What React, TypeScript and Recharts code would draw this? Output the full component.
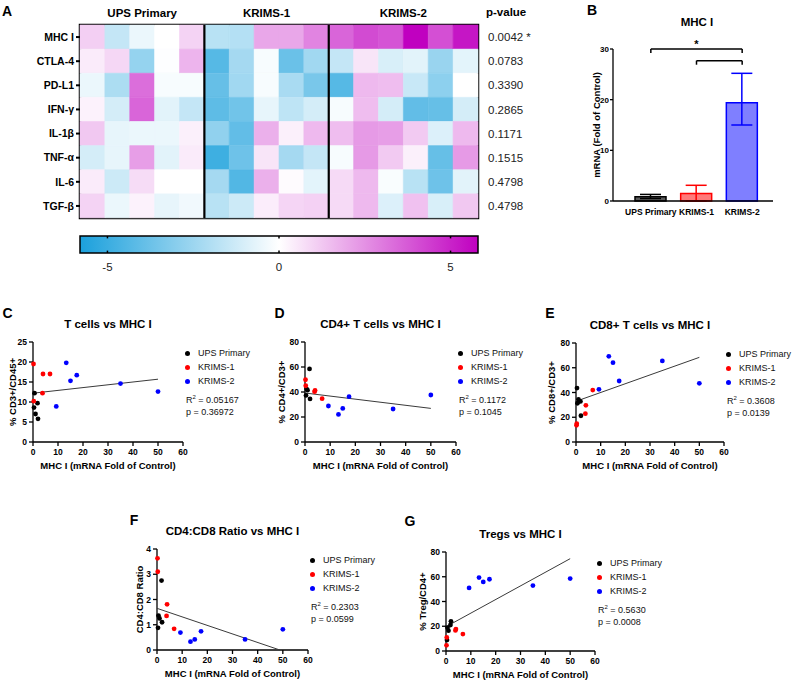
import React from 'react'
import {
  BarChart, Bar, Cell, XAxis, YAxis, ReferenceLine, ReferenceArea, ReferenceDot,
  ErrorBar, ScatterChart, Scatter,
} from 'recharts'

const FONT = '"Liberation Sans", Arial, Helvetica, sans-serif'

// ---------- A: heatmap ----------
const GENES = ['MHC I', 'CTLA-4', 'PD-L1', 'IFN-γ', 'IL-1β', 'TNF-α', 'IL-6', 'TGF-β']
const P_VALUES = ['0.0042 *', '0.0783', '0.3390', '0.2865', '0.1171', '0.1515', '0.4798', '0.4798']
const GROUPS = ['UPS Primary', 'KRIMS-1', 'KRIMS-2']
const GROUP_COLORS = ['#000000', '#ff0000', '#0000ff']

const UPS_HEAT = [
  [1.1, -1.5, -0.5, 0, 1.0],
  [0.45, 0.9, -2.7, -0.05, 1.7],
  [-0.5, -2.1, 3.3, -0.2, -0.2],
  [0.3, -1.1, 3.5, -0.75, -1.5],
  [1.25, -0.6, -0.5, -0.5, 0.35],
  [-1.1, -0.6, 2.2, -0.75, 0.45],
  [0.45, -1.3, 0.8, 0, 0],
  [1.0, -0.5, 0.3, -0.6, -0.35],
]
const KRIMS1_HEAT = [
  [-1.8, -1.9, 2.0, 2.0, 2.8],
  [-4.3, -2.3, -0.2, -3.8, -2.4],
  [-3.9, -2.4, -0.2, -2.2, -3.4],
  [-4.1, -3.6, -0.6, -1.65, -1.1],
  [-2.8, -4.0, 1.8, 0.35, 1.6],
  [-4.9, -3.7, 0.6, -2.3, -1.5],
  [-2.3, -4.4, 1.8, 0.1, -0.7],
  [-1.8, -1.3, 0.4, 0.95, 1.05],
]
const KRIMS2_HEAT = [
  [3.5, 4.1, 3.9, 5.8, 4.0, 5.3],
  [-1.5, 0.6, -1.0, -0.75, -2.6, -0.7],
  [-4.3, 1.6, 1.5, -1.4, -2.9, 0],
  [-0.2, 1.5, -1.1, -4.0, -3.9, -1.1],
  [1.5, 2.3, 2.2, 1.2, -0.9, 1.6],
  [-0.2, 2.3, 1.2, 0.35, -3.9, 2.3],
  [0.85, 1.6, -0.15, -1.8, -3.7, -0.75],
  [0.85, 1.6, -0.9, 1.4, -1.0, 1.25],
]
const COLOR_LIMIT = 5.8
const COLORBAR_TICKS = [-5, 0, 5]
const LOW_RGB = [27, 160, 220]
const HIGH_RGB = [192, 0, 192]

// ---------- B: MHC I bars ----------
const MHC_GROUPS = ['UPS Primary', 'KRIMS-1', 'KRIMS-2']
const MHC_MEAN = [0.85, 1.5, 19.4]
const MHC_ERR_LOW = [0.35, 1.5, 4.4]
const MHC_ERR_HIGH = [0.45, 1.6, 5.8]
const MHC_FILL_OPACITY = [0.64, 0.52, 0.5]
const MHC_TICKS = [0, 10, 20, 30]
const MHC_BRACKETS: [string, string, number][] = [
  ['UPS Primary', 'KRIMS-2', 30],
  ['KRIMS-1', 'KRIMS-2', 27.7],
]

// ---------- C-G: scatter vs MHC I ----------
const MHC_X_TICKS = [0, 10, 20, 30, 40, 50, 60]
const UPS_MHC = [0.4, 0.6, 1.0, 1.8, 2.0]
const KRIMS1_MHC = [0.2, 0.3, 3.8, 4.0, 6.8]
const KRIMS2_MHC = [9.3, 13.3, 15.0, 17.5, 35.0, 50.0]

const TCELL_UPS = [8.6, 12.2, 7.0, 9.7, 5.8]
const TCELL_K1 = [19.5, 10.2, 12.2, 17.0, 17.0]
const TCELL_K2 = [8.9, 19.8, 15.3, 16.7, 14.6, 12.6]
const TCELL_FIT = [12.2, 0.07]

const CD4_UPS = [37.3, 42.5, 41.5, 58.5, 34.5]
const CD4_K1 = [49.8, 45.0, 40.3, 41.3, 34.7]
const CD4_K2 = [28.8, 22.1, 26.9, 36.3, 26.4, 37.6]
const CD4_FIT = [39.2, -0.246]

const CD8_UPS = [43.6, 31.3, 34.5, 32.8, 21.2]
const CD8_K1 = [13.5, 14.8, 22.9, 29.6, 42.0]
const CD8_K2 = [42.6, 69.2, 64.1, 49.3, 65.5, 47.4]
const CD8_FIT = [32.9, 0.71]

const RATIO_UPS = [0.88, 1.36, 1.25, 2.75, 1.1]
const RATIO_K1 = [3.63, 3.1, 1.35, 1.81, 0.84]
const RATIO_K2 = [0.69, 0.33, 0.42, 0.74, 0.42, 0.82]
const RATIO_FIT = [1.65, -0.0338]

const TREG_UPS = [8.9, 18.8, 16.4, 21.0, 24.0]
const TREG_K1 = [4.6, 11.0, 16.6, 17.7, 13.7]
const TREG_K2 = [51.0, 59.3, 55.8, 58.0, 52.9, 58.5]
const TREG_FIT = [19.6, 1.1]

function heatColor(v: number) {
  const t = Math.min(Math.abs(v) / COLOR_LIMIT, 1)
  const end = v < 0 ? LOW_RGB : HIGH_RGB
  const c = end.map((e) => Math.round(255 + (e - 255) * t))
  return `rgb(${c[0]},${c[1]},${c[2]})`
}

const HEAT = GENES.map((_, i) => [...UPS_HEAT[i], ...KRIMS1_HEAT[i], ...KRIMS2_HEAT[i]])
const N_COLS = HEAT[0].length
const GROUP_SIZES = [UPS_HEAT[0].length, KRIMS1_HEAT[0].length, KRIMS2_HEAT[0].length]
const GROUP_EDGES = GROUP_SIZES.reduce((acc, n) => [...acc, acc[acc.length - 1] + n], [0])
const GROUP_CENTERS = GROUP_SIZES.map((n, i) => GROUP_EDGES[i] + n / 2)

const heatRows = GENES.map((gene, i) => {
  const row: Record<string, any> = { gene, p: P_VALUES[i] }
  HEAT[i].forEach((_, j) => { row[`c${j}`] = 1 })
  return row
})

const mhcRows = MHC_GROUPS.map((group, i) => {
  const row: Record<string, any> = { group }
  MHC_GROUPS.forEach((_, k) => {
    row[`v${k}`] = k === i ? MHC_MEAN[i] : null
    row[`e${k}`] = k === i ? [MHC_ERR_LOW[i], MHC_ERR_HIGH[i]] : null
  })
  return row
})

const AXIS = { stroke: '#000', strokeWidth: 1.3 }
const TICK = { fontSize: 8.5, fontWeight: 700, fill: '#000' }

function Txt({ x, y, size, bold, anchor = 'start', color = '#000', children }: any) {
  const tx = anchor === 'middle' ? '-50%' : anchor === 'end' ? '-100%' : '0'
  return (
    <div
      style={{
        position: 'absolute', left: x, top: y - size / 2, fontSize: size, lineHeight: `${size}px`,
        fontWeight: bold ? 700 : 400, whiteSpace: 'nowrap', transform: `translateX(${tx})`, color,
      }}
    >
      {children}
    </div>
  )
}

function Heatmap() {
  return (
    <>
      <div style={{ position: 'absolute', left: 0, top: 0 }}>
        <BarChart layout="vertical" width={558} height={221} data={heatRows}
          margin={{ top: 0, right: 2, left: 0, bottom: 3 }} barCategoryGap={0} barGap={0}>
          <XAxis type="number" orientation="top" domain={[0, N_COLS]} ticks={GROUP_CENTERS}
            tickFormatter={(v) => GROUPS[GROUP_CENTERS.indexOf(v)]} axisLine={false} tickLine={false}
            tickSize={0} tickMargin={7.6} height={25} interval={0}
            tick={{ fontSize: 11.5, fontWeight: 700, fill: '#000' }} />
          <YAxis type="category" dataKey="gene" width={80} tickSize={4} tickMargin={2} axisLine={false}
            tickLine={{ stroke: '#000', strokeWidth: 2 }} interval={0}
            tick={{ fontSize: 10.5, fontWeight: 700, fill: '#000' }} />
          <YAxis yAxisId="p" orientation="right" type="category" dataKey="p" width={78} tickSize={0}
            tickMargin={10} axisLine={false} tickLine={false} interval={0}
            tick={{ fontSize: 11.5, fill: '#222' }} />
          {HEAT[0].map((_, j) => (
            <Bar key={j} dataKey={`c${j}`} stackId="h" isAnimationActive={false}>
              {HEAT.map((row, i) => (
                <Cell key={i} fill={heatColor(row[j])} stroke={heatColor(row[j])} strokeWidth={0.6} />
              ))}
            </Bar>
          ))}
          {GROUP_EDGES.slice(1, -1).map((e) => (
            <ReferenceLine key={e} x={e} stroke="#000" strokeWidth={2.2} ifOverflow="visible" />
          ))}
          <ReferenceArea x1={0} x2={N_COLS} fill="none" stroke="#000" strokeWidth={2.5} ifOverflow="visible" />
        </BarChart>
      </div>
      <Txt x={486} y={13} size={11.5} bold>p-value</Txt>
      <div style={{ position: 'absolute', left: 0, top: 228 }}>
        <ScatterChart width={490} height={53} margin={{ top: 8, right: 12, left: 80, bottom: 0 }}>
          <defs>
            <linearGradient id="heatScale" x1="0" y1="0" x2="1" y2="0">
              <stop offset="0%" stopColor={heatColor(-COLOR_LIMIT)} />
              <stop offset="50%" stopColor="#ffffff" />
              <stop offset="100%" stopColor={heatColor(COLOR_LIMIT)} />
            </linearGradient>
          </defs>
          <XAxis type="number" dataKey="x" domain={[-COLOR_LIMIT, COLOR_LIMIT]} ticks={COLORBAR_TICKS}
            height={28} axisLine={false} tickLine={false} tickSize={0} tickMargin={10} interval={0}
            tick={{ fontSize: 11.5, fill: '#222' }} />
          <YAxis type="number" dataKey="y" domain={[0, 1]} hide />
          <Scatter data={COLORBAR_TICKS.map((x) => ({ x, y: 0.5 }))} shape={() => <g />}
            legendType="none" isAnimationActive={false} />
          <ReferenceArea x1={-COLOR_LIMIT} x2={COLOR_LIMIT} y1={0} y2={1} fill="url(#heatScale)" fillOpacity={1}
            stroke="#000" strokeWidth={1.5} ifOverflow="visible" />
          {COLORBAR_TICKS.map((t) => (
            <ReferenceLine key={`b${t}`} segment={[{ x: t, y: 0 }, { x: t, y: 0.14 }]} stroke="#000" strokeWidth={1.5} />
          ))}
          {COLORBAR_TICKS.map((t) => (
            <ReferenceLine key={`t${t}`} segment={[{ x: t, y: 0.86 }, { x: t, y: 1 }]} stroke="#000" strokeWidth={1.5} />
          ))}
        </ScatterChart>
      </div>
    </>
  )
}

function MhcBars() {
  const pad = { left: 15, right: 8 }
  return (
    <>
      <Txt x={697} y={22.7} size={11.5} bold anchor="middle">MHC I</Txt>
      <div style={{ position: 'absolute', left: 575, top: 31 }}>
        <BarChart width={204} height={192} data={mhcRows} margin={{ top: 18, right: 6, left: 0, bottom: 0 }}>
          <XAxis dataKey="group" type="category" padding={pad} height={22} tickLine={false} tickSize={6}
            tickMargin={2} axisLine={AXIS} tick={TICK} interval={0} />
          <XAxis xAxisId={1} dataKey="group" type="category" padding={pad} hide />
          <XAxis xAxisId={2} dataKey="group" type="category" padding={pad} hide />
          <YAxis type="number" domain={[0, 30]} ticks={MHC_TICKS} width={38} tickSize={3} tickMargin={1}
            axisLine={AXIS} tickLine={AXIS} tick={{ ...TICK, fontSize: 8 }} interval={0}
            label={{
              value: 'mRNA (Fold of Control)', angle: -90, position: 'insideLeft', offset: 21.5,
              style: { textAnchor: 'middle' }, fontSize: 9.5, fontWeight: 700, fill: '#000',
            }} />
          {MHC_GROUPS.map((_, k) => (
            <Bar key={k} xAxisId={k} dataKey={`v${k}`} barSize={31} fill={GROUP_COLORS[k]}
              fillOpacity={MHC_FILL_OPACITY[k]} stroke={GROUP_COLORS[k]} strokeWidth={1.5} isAnimationActive={false}>
              <ErrorBar dataKey={`e${k}`} direction="y" width={10.5} stroke={GROUP_COLORS[k]} strokeWidth={1.5} />
            </Bar>
          ))}
          {MHC_BRACKETS.map(([a, b, y]) => (
            <ReferenceLine key={`h${a}`} segment={[{ x: a, y }, { x: b, y }]} stroke="#000" strokeWidth={1.5} ifOverflow="visible" />
          ))}
          {MHC_BRACKETS.flatMap(([a, b, y]) => [a, b].map((g) => (
            <ReferenceLine key={`v${a}${g}`} segment={[{ x: g, y }, { x: g, y: y - 0.8 }]} stroke="#000"
              strokeWidth={1.5} ifOverflow="visible" />
          )))}
          <ReferenceDot x="KRIMS-1" y={30} r={0} ifOverflow="visible"
            label={{ value: '*', position: 'top', offset: 1.3, fontSize: 11, fontWeight: 700, fill: '#000' }} />
        </BarChart>
      </div>
    </>
  )
}

type PanelProps = {
  letter: string
  letterAt: [number, number]
  title: string
  yLabel: string
  labelGap: number
  plot: { x: number; y: number; w: number; h: number }
  yMax: number
  yTicks: number[]
  ups: number[]
  krims1: number[]
  krims2: number[]
  fit: number[]
  fitTo: number
  r2: string
  p: string
}

function ScatterPanel(props: PanelProps) {
  const { letter, letterAt, title, yLabel, labelGap, plot, yMax, yTicks, ups, krims1, krims2, fit, fitTo, r2, p } = props
  const YW = 36, MT = 10, MR = 8, XH = 34
  const pts = (xs: number[], ys: number[]) => xs.map((x, i) => ({ x, y: ys[i] }))
  const fitPts = [0, fitTo].map((x) => ({ x, y: fit[0] + fit[1] * x }))
  const series = [pts(UPS_MHC, ups), pts(KRIMS1_MHC, krims1), pts(KRIMS2_MHC, krims2)]
  const lx = plot.x + plot.w
  return (
    <>
      <Txt x={letterAt[0]} y={letterAt[1]} size={14} bold anchor="middle">{letter}</Txt>
      <Txt x={plot.x + plot.w / 2} y={plot.y - 17.5} size={11.5} bold anchor="middle">{title}</Txt>
      <div style={{ position: 'absolute', left: plot.x - YW, top: plot.y - MT }}>
        <ScatterChart width={YW + plot.w + MR} height={MT + plot.h + XH} margin={{ top: MT, right: MR, left: 0, bottom: 0 }}>
          <XAxis type="number" dataKey="x" domain={[0, 60]} ticks={MHC_X_TICKS} height={XH} tickSize={4}
            tickMargin={3} axisLine={AXIS} tickLine={AXIS} tick={TICK} interval={0}
            label={{
              value: 'MHC I (mRNA Fold of Control)', position: 'insideBottom', offset: 6.6,
              fontSize: 9.5, fontWeight: 700, fill: '#000',
            }} />
          <YAxis type="number" dataKey="y" domain={[0, yMax]} ticks={yTicks} width={YW} tickSize={4}
            tickMargin={2} axisLine={AXIS} tickLine={AXIS} tick={TICK} interval={0}
            label={{
              value: yLabel, angle: -90, position: 'insideLeft', offset: YW - labelGap,
              style: { textAnchor: 'middle' }, fontSize: 9.5, fontWeight: 700, fill: '#000',
            }} />
          <Scatter data={fitPts} line={{ stroke: '#3a3a3a', strokeWidth: 1 }} shape={() => <g />}
            legendType="none" isAnimationActive={false} />
          {series.map((d, k) => (
            <Scatter key={k} name={GROUPS[k]} data={d} fill={GROUP_COLORS[k]} isAnimationActive={false}
              shape={(s: any) => <circle cx={s.cx} cy={s.cy} r={2.4} fill={GROUP_COLORS[k]} />} />
          ))}
        </ScatterChart>
      </div>
      {GROUPS.map((name, i) => (
        <React.Fragment key={name}>
          <div style={{
            position: 'absolute', left: lx + 4 - 2.5, top: plot.y + 11 + i * 14 - 2.5, width: 5, height: 5,
            borderRadius: '50%', background: GROUP_COLORS[i],
          }} />
          <Txt x={lx + 15} y={plot.y + 11 + i * 14} size={9} color="#111">{name}</Txt>
        </React.Fragment>
      ))}
      <Txt x={lx + 3} y={plot.y + 58} size={9} color="#111">
        R<span style={{ fontSize: 6, position: 'relative', top: -3.5 }}>2</span> = {r2}
      </Txt>
      <Txt x={lx + 3} y={plot.y + 70} size={9} color="#111">p = {p}</Txt>
    </>
  )
}

export default function App() {
  return (
    <div style={{
      position: 'absolute', left: 0, top: 0, width: 794, height: 681, background: '#fff',
      fontFamily: FONT, overflow: 'hidden',
    }}>
      <Heatmap />
      <MhcBars />
      <Txt x={7} y={10.5} size={14} bold anchor="middle">A</Txt>
      <Txt x={592} y={9.5} size={14} bold anchor="middle">B</Txt>
      <ScatterPanel letter="C" letterAt={[7.5, 313]} title="T cells vs MHC I" yLabel="% CD3+/CD45+" labelGap={20}
        plot={{ x: 33, y: 342, w: 150, h: 100 }} yMax={25} yTicks={[0, 5, 10, 15, 20, 25]}
        ups={TCELL_UPS} krims1={TCELL_K1} krims2={TCELL_K2} fit={TCELL_FIT} fitTo={50} r2="0.05167" p="0.36972" />
      <ScatterPanel letter="D" letterAt={[279.5, 313]} title="CD4+ T cells vs MHC I" yLabel="% CD4+/CD3+" labelGap={23}
        plot={{ x: 305, y: 342, w: 151, h: 100 }} yMax={80} yTicks={[0, 20, 40, 60, 80]}
        ups={CD4_UPS} krims1={CD4_K1} krims2={CD4_K2} fit={CD4_FIT} fitTo={50} r2="0.1172" p="0.1045" />
      <ScatterPanel letter="E" letterAt={[550, 313]} title="CD8+ T cells vs MHC I" yLabel="% CD8+/CD3+" labelGap={24}
        plot={{ x: 576, y: 343, w: 148, h: 99 }} yMax={80} yTicks={[0, 20, 40, 60, 80]}
        ups={CD8_UPS} krims1={CD8_K1} krims2={CD8_K2} fit={CD8_FIT} fitTo={50} r2="0.3608" p="0.0139" />
      <ScatterPanel letter="F" letterAt={[134, 520]} title="CD4:CD8 Ratio vs MHC I" yLabel="CD4:CD8 Ratio" labelGap={17.7}
        plot={{ x: 157, y: 549, w: 151, h: 101 }} yMax={4} yTicks={[0, 1, 2, 3, 4]}
        ups={RATIO_UPS} krims1={RATIO_K1} krims2={RATIO_K2} fit={RATIO_FIT} fitTo={48.8} r2="0.2303" p="0.0599" />
      <ScatterPanel letter="G" letterAt={[410, 520.5]} title="Tregs vs MHC I" yLabel="% Treg/CD4+" labelGap={23}
        plot={{ x: 446, y: 552, w: 149, h: 99 }} yMax={80} yTicks={[0, 20, 40, 60, 80]}
        ups={TREG_UPS} krims1={TREG_K1} krims2={TREG_K2} fit={TREG_FIT} fitTo={50} r2="0.5630" p="0.0008" />
    </div>
  )
}
